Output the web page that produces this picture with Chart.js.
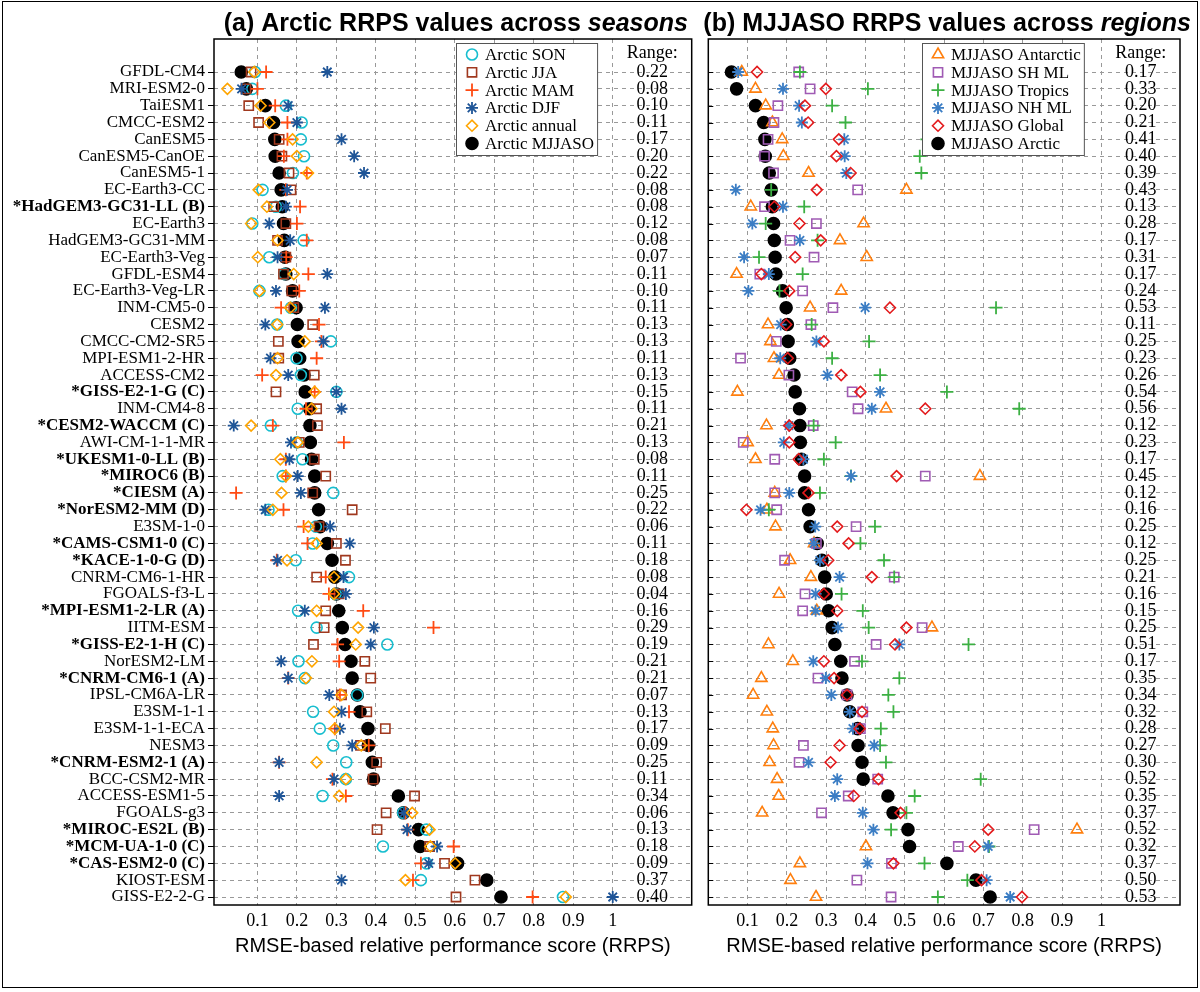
<!DOCTYPE html>
<html>
<head>
<meta charset="utf-8">
<script src="https://cdn.jsdelivr.net/npm/chart.js@4.4.1/dist/chart.umd.min.js"></script>
<style>
  body { margin: 0; background: #fff; }
  #wrap { position: relative; width: 1200px; height: 992px; }
  #frame { position: absolute; left: 2px; top: 1px; width: 1194px; height: 985px; border: 1px solid #000; pointer-events: none; }
  canvas { position: absolute; top: 0; }
</style>
</head>
<body>
<div id="wrap">
  <canvas id="left" width="700" height="992" style="left:0;width:700px;height:992px"></canvas>
  <canvas id="right" width="500" height="992" style="left:700px;width:500px;height:992px"></canvas>
  <div id="frame"></div>
</div>
<script>
const models = ['GFDL-CM4', 'MRI-ESM2-0', 'TaiESM1', 'CMCC-ESM2', 'CanESM5', 'CanESM5-CanOE', 'CanESM5-1',
  'EC-Earth3-CC', '*HadGEM3-GC31-LL (B)', 'EC-Earth3', 'HadGEM3-GC31-MM', 'EC-Earth3-Veg', 'GFDL-ESM4',
  'EC-Earth3-Veg-LR', 'INM-CM5-0', 'CESM2', 'CMCC-CM2-SR5', 'MPI-ESM1-2-HR', 'ACCESS-CM2', '*GISS-E2-1-G (C)',
  'INM-CM4-8', '*CESM2-WACCM (C)', 'AWI-CM-1-1-MR', '*UKESM1-0-LL (B)', '*MIROC6 (B)', '*CIESM (A)',
  '*NorESM2-MM (D)', 'E3SM-1-0', '*CAMS-CSM1-0 (C)', '*KACE-1-0-G (D)', 'CNRM-CM6-1-HR', 'FGOALS-f3-L',
  '*MPI-ESM1-2-LR (A)', 'IITM-ESM', '*GISS-E2-1-H (C)', 'NorESM2-LM', '*CNRM-CM6-1 (A)', 'IPSL-CM6A-LR',
  'E3SM-1-1', 'E3SM-1-1-ECA', 'NESM3', '*CNRM-ESM2-1 (A)', 'BCC-CSM2-MR', 'ACCESS-ESM1-5', 'FGOALS-g3',
  '*MIROC-ES2L (B)', '*MCM-UA-1-0 (C)', '*CAS-ESM2-0 (C)', 'KIOST-ESM', 'GISS-E2-2-G'];

// panel (a): seasons
const arcticSON = [0.094, 0.087, 0.172, 0.212, 0.21, 0.218, 0.19, 0.113, 0.147, 0.087, 0.217, 0.13, 0.168, 0.105,
  0.185, 0.15, 0.286, 0.199, 0.21, 0.3, 0.202, 0.134, 0.2, 0.214, 0.164, 0.292, 0.128, 0.248, 0.24, 0.197, 0.332,
  0.298, 0.203, 0.25, 0.429, 0.204, 0.22, 0.353, 0.241, 0.258, 0.292, 0.325, 0.324, 0.265, 0.469, 0.528, 0.418,
  0.528, 0.514, 0.874];
const arcticJJA = [0.084, 0.071, 0.078, 0.103, 0.155, 0.162, 0.18, 0.185, 0.141, 0.172, 0.151, 0.172, 0.166, 0.187,
  0.192, 0.24, 0.153, 0.154, 0.244, 0.147, 0.25, 0.252, 0.206, 0.244, 0.273, 0.24, 0.34, 0.256, 0.3, 0.323, 0.25,
  0.307, 0.273, 0.269, 0.242, 0.372, 0.387, 0.313, 0.377, 0.424, 0.361, 0.402, 0.393, 0.498, 0.426, 0.403, 0.536,
  0.574, 0.651, 0.603];
const arcticMAM = [0.122, 0.1, 0.145, 0.176, 0.176, 0.167, 0.225, 0.172, 0.208, 0.2, 0.225, 0.173, 0.229, 0.206,
  0.16, 0.256, 0.262, 0.25, 0.112, 0.245, 0.223, 0.139, 0.319, 0.172, 0.172, 0.046, 0.166, 0.217, 0.227, 0.149,
  0.273, 0.281, 0.368, 0.546, 0.303, 0.307, 0.178, 0.309, 0.332, 0.296, 0.382, 0.155, 0.29, 0.324, 0.475, 0.481,
  0.597, 0.514, 0.494, 0.797];
const arcticDJF = [0.277, 0.06, 0.178, 0.2, 0.313, 0.345, 0.37, 0.175, 0.172, 0.13, 0.183, 0.151, 0.277, 0.147,
  0.271, 0.12, 0.267, 0.133, 0.178, 0.3, 0.313, 0.04, 0.185, 0.181, 0.202, 0.21, 0.12, 0.284, 0.334, 0.151, 0.318,
  0.324, 0.22, 0.395, 0.387, 0.16, 0.178, 0.282, 0.313, 0.309, 0.34, 0.155, 0.294, 0.155, 0.471, 0.479, 0.555,
  0.534, 0.313, 1.0];
const arcticAnnual = [0.092, 0.024, 0.108, 0.13, 0.189, 0.2, 0.228, 0.103, 0.124, 0.084, 0.151, 0.101, 0.192, 0.105,
  0.183, 0.15, 0.22, 0.151, 0.147, 0.245, 0.237, 0.084, 0.202, 0.158, 0.172, 0.161, 0.139, 0.229, 0.25, 0.175,
  0.294, 0.294, 0.25, 0.355, 0.349, 0.238, 0.223, 0.313, 0.294, 0.296, 0.363, 0.25, 0.324, 0.307, 0.492, 0.536,
  0.538, 0.601, 0.475, 0.881];
const arcticMJJASO = [0.059, 0.072, 0.12, 0.141, 0.144, 0.145, 0.155, 0.16, 0.163, 0.166, 0.168, 0.17, 0.172, 0.189,
  0.198, 0.201, 0.203, 0.207, 0.218, 0.221, 0.232, 0.233, 0.234, 0.237, 0.245, 0.245, 0.255, 0.259, 0.277, 0.289,
  0.296, 0.3, 0.306, 0.315, 0.322, 0.337, 0.34, 0.353, 0.36, 0.38, 0.381, 0.391, 0.394, 0.457, 0.47, 0.508, 0.512,
  0.607, 0.681, 0.717];
const rangeA = [0.22, 0.08, 0.10, 0.11, 0.17, 0.20, 0.22, 0.08, 0.08, 0.12, 0.08, 0.07, 0.11, 0.10, 0.11, 0.13, 0.13,
  0.11, 0.13, 0.15, 0.11, 0.21, 0.13, 0.08, 0.11, 0.25, 0.22, 0.06, 0.11, 0.18, 0.08, 0.04, 0.16, 0.29, 0.19, 0.21,
  0.21, 0.07, 0.13, 0.17, 0.09, 0.25, 0.11, 0.34, 0.06, 0.13, 0.18, 0.09, 0.37, 0.40];

// panel (b): regions
const mjjasoAntarctic = [0.085, 0.12, 0.146, 0.163, 0.188, 0.191, 0.255, 0.504, 0.108, 0.395, 0.335, 0.403, 0.072,
  0.338, 0.259, 0.152, 0.158, 0.167, 0.18, 0.074, 0.452, 0.148, 0.1, 0.12, 0.691, 0.169, 0.149, 0.171, 0.269,
  0.208, 0.261, 0.18, 0.276, 0.569, 0.153, 0.215, 0.135, 0.114, 0.149, 0.164, 0.166, 0.156, 0.175, 0.179, 0.137,
  0.938, 0.401, 0.233, 0.209, 0.274];
const mjjasoSHML = [0.23, 0.259, 0.177, 0.167, 0.152, 0.143, 0.166, 0.38, 0.143, 0.275, 0.208, 0.269, 0.131, 0.24,
  0.317, 0.261, 0.173, 0.082, 0.205, 0.366, 0.381, 0.267, 0.089, 0.169, 0.552, 0.169, 0.174, 0.376, 0.275, 0.194,
  0.473, 0.246, 0.24, 0.544, 0.427, 0.372, 0.279, 0.353, 0.393, 0.387, 0.242, 0.231, 0.431, 0.356, 0.288, 0.829,
  0.636, 0.466, 0.378, 0.465];
const mjjasoTropics = [0.233, 0.406, 0.315, 0.349, 0.556, 0.538, 0.542, 0.16, 0.244, 0.146, 0.278, 0.129, 0.24,
  0.181, 0.732, 0.263, 0.409, 0.315, 0.437, 0.607, 0.791, 0.268, 0.324, 0.294, 0.363, 0.284, 0.154, 0.424, 0.387,
  0.447, 0.473, 0.339, 0.393, 0.408, 0.662, 0.391, 0.486, 0.458, 0.471, 0.439, 0.437, 0.452, 0.693, 0.525, 0.504,
  0.465, 0.714, 0.55, 0.659, 0.584];
const mjjasoNHML = [0.076, 0.19, 0.231, 0.238, 0.346, 0.347, 0.351, 0.07, 0.19, 0.112, 0.233, 0.091, 0.154, 0.102,
  0.399, 0.184, 0.275, 0.183, 0.303, 0.437, 0.416, 0.205, 0.192, 0.242, 0.363, 0.206, 0.133, 0.272, 0.269, 0.284,
  0.334, 0.273, 0.273, 0.33, 0.486, 0.267, 0.299, 0.313, 0.36, 0.368, 0.422, 0.255, 0.328, 0.322, 0.393, 0.42,
  0.712, 0.405, 0.708, 0.768];
const mjjasoGlobal = [0.124, 0.299, 0.246, 0.254, 0.332, 0.326, 0.362, 0.276, 0.168, 0.232, 0.286, 0.221, 0.135,
  0.206, 0.462, 0.198, 0.294, 0.202, 0.338, 0.387, 0.552, 0.206, 0.206, 0.23, 0.479, 0.255, 0.097, 0.328, 0.357,
  0.305, 0.416, 0.294, 0.328, 0.504, 0.475, 0.294, 0.32, 0.353, 0.391, 0.385, 0.334, 0.311, 0.433, 0.37, 0.489,
  0.712, 0.678, 0.471, 0.695, 0.798];
const rangeB = [0.17, 0.33, 0.20, 0.21, 0.41, 0.40, 0.39, 0.43, 0.13, 0.28, 0.17, 0.31, 0.17, 0.24, 0.53, 0.11, 0.25,
  0.23, 0.26, 0.54, 0.56, 0.12, 0.23, 0.17, 0.45, 0.12, 0.16, 0.25, 0.12, 0.25, 0.21, 0.16, 0.15, 0.25, 0.51, 0.17,
  0.35, 0.34, 0.32, 0.28, 0.27, 0.30, 0.52, 0.35, 0.37, 0.52, 0.32, 0.37, 0.50, 0.53];

const xTicks = [0.1, 0.2, 0.3, 0.4, 0.5, 0.6, 0.7, 0.8, 0.9, 1];

const SERIF = "'Liberation Serif', 'Times New Roman', serif";
const SANS = "'Liberation Sans', Arial, sans-serif";

function series(label, values, style, color, order, filled, radius) {
  return {
    label: label,
    data: values.map(function (v, i) { return { x: v, y: i }; }),
    pointStyle: style,
    pointRadius: radius,
    pointHoverRadius: radius,
    pointBorderColor: color,
    pointBackgroundColor: filled ? color : 'rgba(0,0,0,0)',
    pointBorderWidth: style === 'cross' || style === 'star' ? 1.8 : 1.6,
    order: order
  };
}

function scaleSetup(xmin, labels) {
  return {
    x: {
      type: 'linear', min: xmin, max: 1.2,
      afterBuildTicks: function (s) { s.ticks = xTicks.map(function (v) { return { value: v }; }); },
      afterFit: function (s) { s.height = 87; },
      ticks: {
        autoSkip: false, maxRotation: 0, padding: 5, color: '#000',
        font: { family: SERIF, size: 18 },
        callback: function (v) { return String(Math.round(v * 10) / 10); }
      },
      grid: { color: '#999', lineWidth: 1, drawTicks: false },
      border: { display: false, dash: [4, 4] }
    },
    y: {
      type: 'linear', reverse: true, min: -1.96, max: 49.475,
      afterBuildTicks: function (s) { s.ticks = models.map(function (m, i) { return { value: i }; }); },
      afterFit: function (s) { s.width = labels ? 214 : 4; },
      ticks: {
        display: labels, autoSkip: false, padding: 3, color: '#000',
        callback: function (v, i) { return models[i]; },
        font: function (c) {
          const m = models[c.index] || '';
          return { family: SERIF, size: 17, weight: m.charAt(0) === '*' ? 'bold' : 'normal' };
        }
      },
      grid: { color: '#999', lineWidth: 1, drawTicks: labels, tickLength: 6, tickColor: '#000', tickWidth: 1, tickBorderDash: [] },
      border: { display: false, dash: [4, 4] }
    }
  };
}

function decoration(cfg) {
  return {
    id: 'decoration',
    afterDraw: function (chart) {
      const ctx = chart.ctx;
      const a = chart.chartArea;
      const x = chart.scales.x;
      const y = chart.scales.y;
      ctx.save();

      // inner tick marks for the panel without labels
      if (cfg.innerTicks) {
        ctx.strokeStyle = '#000';
        ctx.lineWidth = 1;
        models.forEach(function (m, i) {
          const py = Math.round(y.getPixelForValue(i)) + 0.5;
          ctx.beginPath();
          ctx.moveTo(a.left, py);
          ctx.lineTo(a.left + 5, py);
          ctx.stroke();
        });
      }

      // range column
      ctx.fillStyle = '#000';
      ctx.font = '18px ' + SERIF;
      ctx.textAlign = 'center';
      ctx.textBaseline = 'middle';
      const cx = x.getPixelForValue(1.1);
      ctx.fillText('Range:', cx, y.getPixelForValue(-1.1));
      cfg.range.forEach(function (r, i) {
        ctx.fillText(r.toFixed(2), cx, y.getPixelForValue(i));
      });

      // legend box
      ctx.font = '17px ' + SERIF;
      ctx.textAlign = 'left';
      let maxW = 0;
      chart.data.datasets.forEach(function (d) { maxW = Math.max(maxW, ctx.measureText(d.label).width); });
      const bx = cfg.legendX, by = 43, bw = 29 + maxW + 3, bh = 112;
      ctx.fillStyle = '#fff';
      ctx.fillRect(bx, by, bw, bh);
      ctx.strokeStyle = '#555';
      ctx.lineWidth = 1;
      ctx.strokeRect(bx + 0.5, by + 0.5, bw, bh);
      chart.data.datasets.forEach(function (d, i) {
        const ly = by + 11.5 + i * 17.8;
        ctx.strokeStyle = d.pointBorderColor;
        ctx.fillStyle = d.pointBackgroundColor;
        ctx.lineWidth = d.pointBorderWidth;
        Chart.helpers.drawPoint(ctx, { pointStyle: d.pointStyle, radius: d.pointRadius, rotation: 0, borderWidth: d.pointBorderWidth }, bx + 16, ly);
        ctx.fillStyle = '#000';
        ctx.fillText(d.label, bx + 29, ly + 1);
      });

      // plot frame
      ctx.strokeStyle = '#000';
      ctx.lineWidth = 1.5;
      ctx.strokeRect(a.left, a.top, a.right - a.left, a.bottom - a.top);

      // title with italic last word
      const tx = (a.left + a.right) / 2 + 3;
      ctx.fillStyle = '#000';
      ctx.textBaseline = 'alphabetic';
      ctx.font = 'bold 25px ' + SANS;
      const w1 = ctx.measureText(cfg.title[0]).width;
      ctx.font = 'italic bold 25px ' + SANS;
      const w2 = ctx.measureText(cfg.title[1]).width;
      const sx = tx - (w1 + w2) / 2;
      ctx.textAlign = 'left';
      ctx.font = 'bold 25px ' + SANS;
      ctx.fillText(cfg.title[0], sx, 31);
      ctx.font = 'italic bold 25px ' + SANS;
      ctx.fillText(cfg.title[1], sx + w1, 31);

      // x axis title
      ctx.font = '20px ' + SANS;
      ctx.textAlign = 'center';
      ctx.textBaseline = 'middle';
      ctx.fillText('RMSE-based relative performance score (RRPS)', (a.left + a.right) / 2, 946);
      ctx.restore();
    }
  };
}

new Chart(document.getElementById('left'), {
  type: 'scatter',
  data: {
    datasets: [
      series('Arctic SON', arcticSON, 'circle', '#17BECF', 5, false, 5.5),
      series('Arctic JJA', arcticJJA, 'rect', '#A0381E', 4, false, 6.5),
      series('Arctic MAM', arcticMAM, 'cross', '#FF4A12', 3, false, 6.5),
      series('Arctic DJF', arcticDJF, 'star', '#1F5597', 2, false, 6),
      series('Arctic annual', arcticAnnual, 'rectRot', '#FFA500', 1, false, 5.5),
      series('Arctic MJJASO', arcticMJJASO, 'circle', '#000000', 10, true, 6)
    ]
  },
  options: {
    responsive: false, animation: false, events: [],
    layout: { padding: { left: 0, right: 6, top: 39, bottom: 0 } },
    plugins: { legend: { display: false }, tooltip: { enabled: false } },
    scales: scaleSetup(-0.01, true)
  },
  plugins: [decoration({ range: rangeA, legendX: 456, innerTicks: false,
    title: ['(a) Arctic RRPS values across ', 'seasons'] })]
});

new Chart(document.getElementById('right'), {
  type: 'scatter',
  data: {
    datasets: [
      series('MJJASO Antarctic', mjjasoAntarctic, 'triangle', '#FF7F0E', 6, false, 6.5),
      series('MJJASO SH ML', mjjasoSHML, 'rect', '#A05BB4', 5, false, 6.5),
      series('MJJASO Tropics', mjjasoTropics, 'cross', '#3CB043', 4, false, 6.5),
      series('MJJASO NH ML', mjjasoNHML, 'star', '#3B7DC4', 3, false, 6),
      series('MJJASO Global', mjjasoGlobal, 'rectRot', '#E31A1C', 2, false, 5.5),
      series('MJJASO Arctic', arcticMJJASO, 'circle', '#000000', 10, true, 6)
    ]
  },
  options: {
    responsive: false, animation: false, events: [],
    layout: { padding: { left: 0, right: 20, top: 39, bottom: 0 } },
    plugins: { legend: { display: false }, tooltip: { enabled: false } },
    scales: scaleSetup(0, false)
  },
  plugins: [decoration({ range: rangeB, legendX: 222, innerTicks: true,
    title: ['(b) MJJASO RRPS values across ', 'regions'] })]
});
</script>
</body>
</html>
